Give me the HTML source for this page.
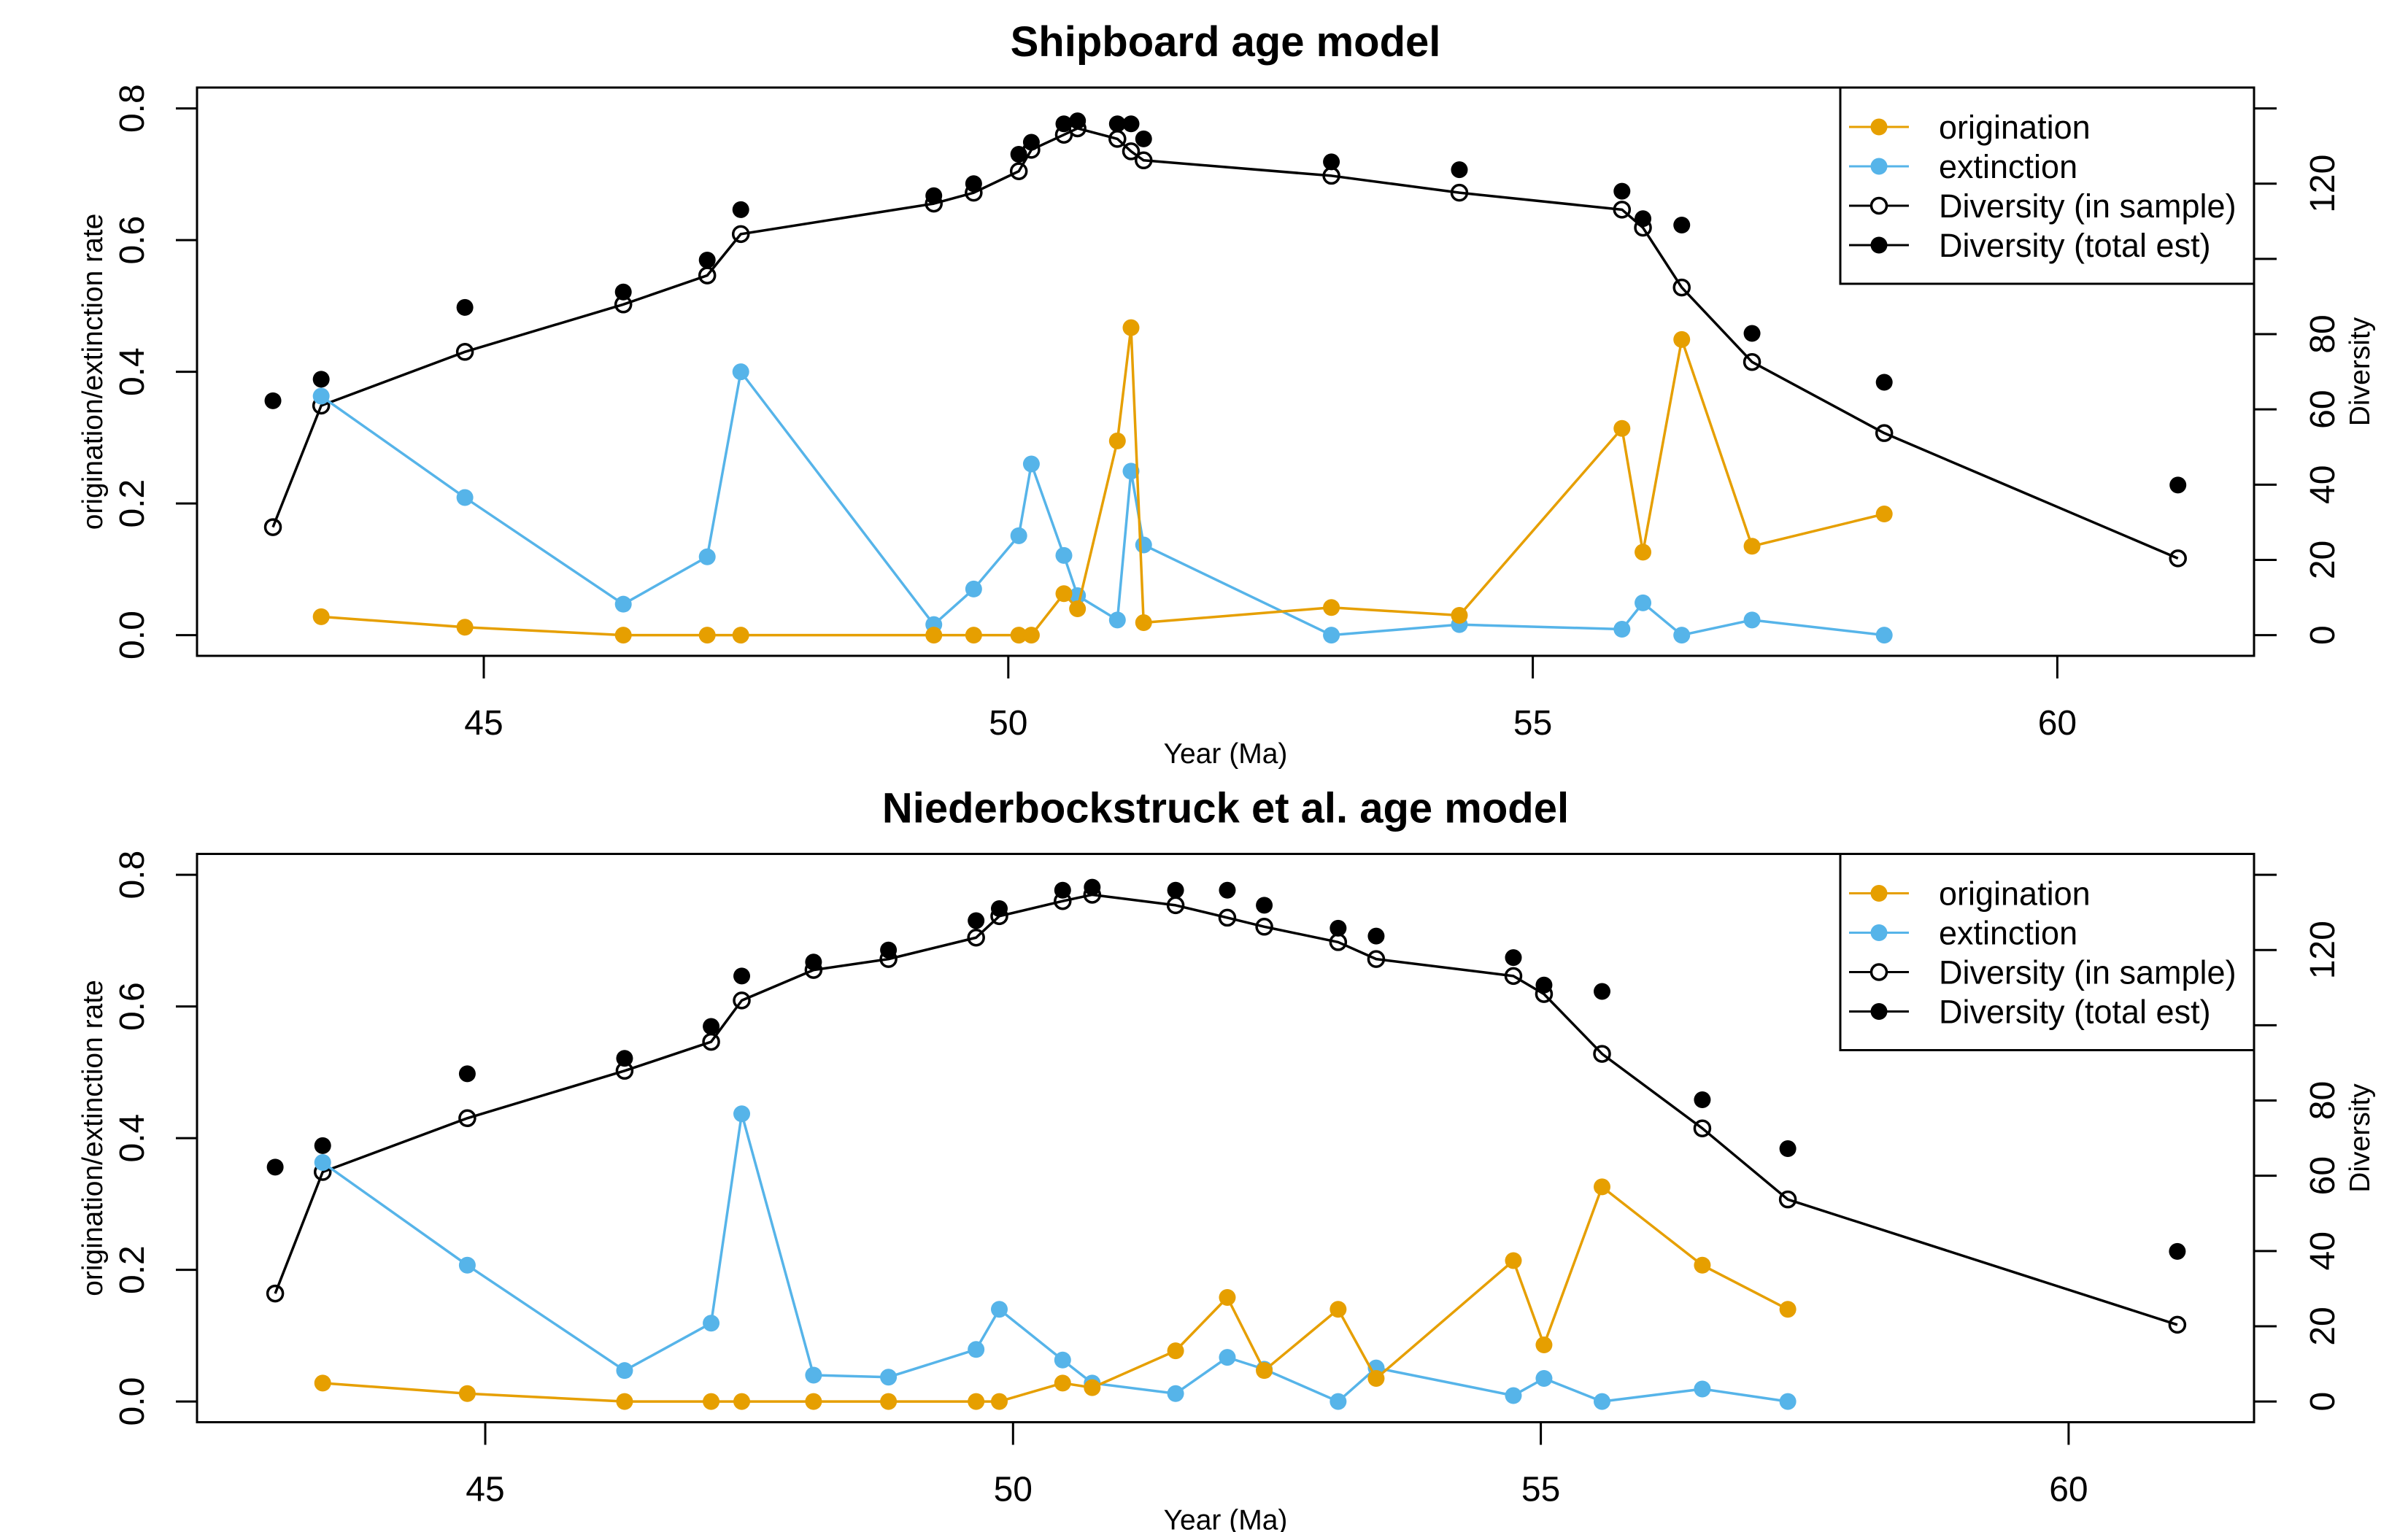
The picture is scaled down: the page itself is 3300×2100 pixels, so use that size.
<!DOCTYPE html>
<html><head><meta charset="utf-8">
<style>
html,body{margin:0;padding:0;background:#fff;}
svg{display:block;}
text{font-family:"Liberation Sans",Arial,sans-serif;fill:#000;}
</style></head>
<body>
<svg id="chart" width="3300" height="2100" viewBox="0 0 3300 2100" xmlns="http://www.w3.org/2000/svg"></svg>
<script>
// ---- Data: Shipboard age model (top panel) ----
const topAges = [42.99,43.45,44.82,46.33,47.13,47.45,49.29,49.67,50.10,50.22,50.53,50.66,51.04,51.17,51.29,53.08,54.30,55.85,56.05,56.42,57.09,58.35,61.15];
const topOrigination = [null,0.028,0.012,0,0,0,0,0,0,0,0.063,0.04,0.295,0.467,0.019,0.042,0.03,0.314,0.126,0.449,0.135,0.184,null];
const topExtinction = [null,0.363,0.209,0.047,0.119,0.40,0.016,0.07,0.151,0.26,0.121,0.06,0.023,0.249,0.137,0,0.016,0.009,0.049,0,0.023,0,null];
// ---- Data: Niederbockstruck et al. age model (bottom panel) ----
const botAges = [43.01,43.46,44.83,46.32,47.14,47.43,48.11,48.82,49.65,49.87,50.47,50.75,51.54,52.03,52.38,53.08,53.44,54.74,55.03,55.58,56.53,57.34,61.03];
const botOrigination = [null,0.028,0.012,0,0,0,0,0,0,0,0.028,0.021,0.077,0.158,0.047,0.14,0.035,0.214,0.086,0.326,0.207,0.14,null];
const botExtinction = [null,0.363,0.207,0.047,0.119,0.437,0.04,0.037,0.079,0.14,0.063,0.028,0.012,0.067,0.049,0,0.051,0.009,0.035,0,0.019,0,null];
// ---- Diversity (same in both panels) ----
const divSample = [28.7,61,75.3,87.9,95.6,106.6,114.7,117.6,123.3,129,133,134.7,131.9,128.6,126.2,122.1,117.6,113.1,108.3,92.4,72.6,53.7,20.4];
const divTotal = [62.3,68,87.1,91.2,99.7,113.1,116.8,120,127.8,131,135.9,136.7,135.9,135.9,131.9,125.8,123.7,118,110.7,109,80.2,67.2,39.9];
// ---- Ticks ----
const xTicks = [45,50,55,60];
const yTicksLeft = [0,0.2,0.4,0.6,0.8];
const yTickLabelsLeft = ["0.0","0.2","0.4","0.6","0.8"];
const yTicksRight = [0,20,40,60,80,100,120,140];
const yTickLabelsRight = ["0","20","40","60","80","","120",""];
const legendLabels = ["origination","extinction","Diversity (in sample)","Diversity (total est)"];
const titles = ["Shipboard age model","Niederbockstruck et al. age model"];

const NS="http://www.w3.org/2000/svg";
const svg=document.getElementById('chart');
const ORANGE="#E69F00", BLUE="#56B4E9";
function mk(tag,attrs,parent){const e=document.createElementNS(NS,tag);for(const k in attrs)e.setAttribute(k,attrs[k]);(parent||svg).appendChild(e);return e;}

const panels=[
 {ages:topAges,orig:topOrigination,ext:topExtinction,off:0,x45:663,xs:143.76,title:titles[0]},
 {ages:botAges,orig:botOrigination,ext:botExtinction,off:1050.5,x45:665,xs:144.66,title:titles[1]}
];
panels.forEach((p,pi)=>{
  const g=mk('g',{});
  
  
  const o=p.off;
  const X=v=>p.x45+(v-45)*p.xs;
  const Y=v=>870.6+o-v*902.4;
  const YR=v=>870.6+o-v*5.157;
  const L=270,R=3089,T=120+o,B=899+o;
  // title
  const t=mk('text',{x:(L+R)/2,y:57+o+20,'text-anchor':'middle','font-size':58,'font-weight':'bold'},g);
  t.textContent=p.title;
  
  
  // box
  const box=mk('rect',{x:L,y:T,width:R-L,height:B-T,fill:'none',stroke:'#000','stroke-width':3},g);
  
  
  // x axis
  const xa=mk('g',{},g);
  
  
  mk('line',{x1:X(xTicks[0]),x2:X(xTicks[xTicks.length-1]),y1:B,y2:B,stroke:'#000','stroke-width':3},xa);
  xTicks.forEach(v=>{
    mk('line',{x1:X(v),x2:X(v),y1:B,y2:B+31,stroke:'#000','stroke-width':3},xa);
    const tl=mk('text',{x:X(v),y:B+108,'text-anchor':'middle','font-size':48},xa);
    tl.textContent=v;
    
    
  });
  const xl=mk('text',{x:(L+R)/2,y:1032+o+14,'text-anchor':'middle','font-size':39},g);
  xl.textContent='Year (Ma)';
  
  
  // left axis
  const ya=mk('g',{},g);
  
  
  mk('line',{x1:L,x2:L,y1:Y(0),y2:Y(0.8),stroke:'#000','stroke-width':3},ya);
  yTicksLeft.forEach((v,i)=>{
    mk('line',{x1:L-29,x2:L,y1:Y(v),y2:Y(v),stroke:'#000','stroke-width':3},ya);
    const tl=mk('text',{x:0,y:0,'text-anchor':'middle','font-size':48,transform:`translate(197,${Y(v)}) rotate(-90)`},ya);
    tl.textContent=yTickLabelsLeft[i];
    
    
  });
  const yl=mk('text',{x:0,y:0,'text-anchor':'middle','font-size':39,transform:`translate(140,${(T+B)/2}) rotate(-90)`},g);
  yl.textContent='origination/extinction rate';
  
  
  // right axis
  const ra=mk('g',{},g);
  
  
  mk('line',{x1:R,x2:R,y1:YR(0),y2:YR(140),stroke:'#000','stroke-width':3},ra);
  yTicksRight.forEach((v,i)=>{
    mk('line',{x1:R,x2:R+31,y1:YR(v),y2:YR(v),stroke:'#000','stroke-width':3},ra);
    if(yTickLabelsRight[i]){
      const tl=mk('text',{x:0,y:0,'text-anchor':'middle','font-size':48,transform:`translate(3199,${YR(v)}) rotate(-90)`},ra);
      tl.textContent=yTickLabelsRight[i];
      
      
    }
  });
  const rl=mk('text',{x:0,y:0,'text-anchor':'middle','font-size':39,transform:`translate(3247,${(T+B)/2}) rotate(-90)`},g);
  rl.textContent='Diversity';
  
  

  // series
  function series(vals,yf,color,name,open,lines){
    const sg=mk('g',{},g);
    
    
    const pts=[];
    vals.forEach((v,i)=>{if(v!==null)pts.push([X(p.ages[i]),yf(v)]);});
    if(lines) mk('polyline',{points:pts.map(q=>q.join(',')).join(' '),fill:'none',stroke:color,'stroke-width':3.5,'stroke-linejoin':'round'},sg);
    pts.forEach(q=>{
      const c=mk('circle',open?{cx:q[0],cy:q[1],r:10.5,fill:'none',stroke:color,'stroke-width':3.5}:{cx:q[0],cy:q[1],r:11.5,fill:color},sg);
      
      
    });
  }
  series(divTotal,YR,'#000','diversity-total-est',false,false);
  series(divSample,YR,'#000','diversity-in-sample',true,true);
  series(p.ext,Y,BLUE,'extinction-series',false,true);
  series(p.orig,Y,ORANGE,'origination-series',false,true);

  // legend
  const lg=mk('g',{},g);
  
  
  mk('rect',{x:2522,y:T,width:R-2522,height:269,fill:'#fff',stroke:'#000','stroke-width':3},lg);
  const cols=[ORANGE,BLUE,'#000','#000'];
  legendLabels.forEach((lab,i)=>{
    const ey=T+54+i*54;
    const e=mk('g',{},lg);
    
    
    mk('line',{x1:2534,x2:2616,y1:ey,y2:ey,stroke:cols[i],'stroke-width':3},e);
    if(i===2) mk('circle',{cx:2575,cy:ey,r:10.5,fill:'#fff',stroke:'#000','stroke-width':3.5},e);
    else mk('circle',{cx:2575,cy:ey,r:11.5,fill:cols[i]},e);
    const tx=mk('text',{x:2657,y:ey+16,'font-size':45},e);
    tx.textContent=lab;
  });
});
</script>
</body></html>
